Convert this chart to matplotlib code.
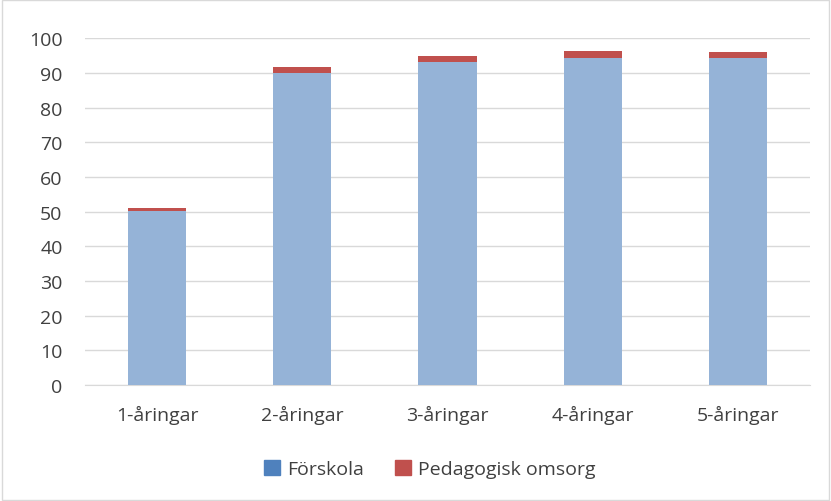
import matplotlib
matplotlib.use("Agg")
import matplotlib.pyplot as plt
from matplotlib.patches import Rectangle
import numpy as np

categories = ["1-åringar", "2-åringar", "3-åringar", "4-åringar", "5-åringar"]
forskola = [50.2, 90.0, 93.2, 94.4, 94.3]
pedagogisk = [0.9, 1.7, 1.7, 1.8, 1.7]

plt.rcParams['font.family'] = ['Open Sans', 'DejaVu Sans']

fig = plt.figure(figsize=(8.31, 5.02), dpi=100)
ax = fig.add_axes([0.102, 0.231, 0.873, 0.691])

x = np.arange(len(categories))
ax.bar(x, forskola, width=0.4, color='#95B3D7', zorder=3)
ax.bar(x, pedagogisk, width=0.4, bottom=forskola, color='#C0504D', zorder=3)

ax.set_ylim(0, 100)
ax.set_xlim(-0.5, len(categories) - 0.5)
ax.set_yticks(range(0, 101, 10))
ax.set_xticks(x)
ax.set_xticklabels(categories)
ax.tick_params(length=0, labelsize=14, colors='#404040')
ax.tick_params(axis='x', pad=14)
ax.tick_params(axis='y', pad=16)
ax.grid(axis='y', color='#D9D9D9', linewidth=1, zorder=0)
for sp in ('top', 'right', 'left'):
    ax.spines[sp].set_visible(False)
ax.spines['bottom'].set_color('#D9D9D9')

# legend with the bright series colours
handles = [Rectangle((0, 0), 1, 1, color='#4F81BD'),
           Rectangle((0, 0), 1, 1, color='#C0504D')]
fig.legend(handles, ["Förskola", "Pedagogisk omsorg"], loc='center',
           bbox_to_anchor=(0.517, 0.064), ncol=2, frameon=False, fontsize=14,
           handlelength=0.85, handleheight=0.85, handletextpad=0.35,
           columnspacing=1.6, labelcolor='#404040')

# outer chart border
fig.patches.append(Rectangle((0.002, 0.002), 0.996, 0.996, transform=fig.transFigure,
                             fill=False, edgecolor='#D9D9D9', linewidth=1))

fig.savefig("out.png", dpi=100)
